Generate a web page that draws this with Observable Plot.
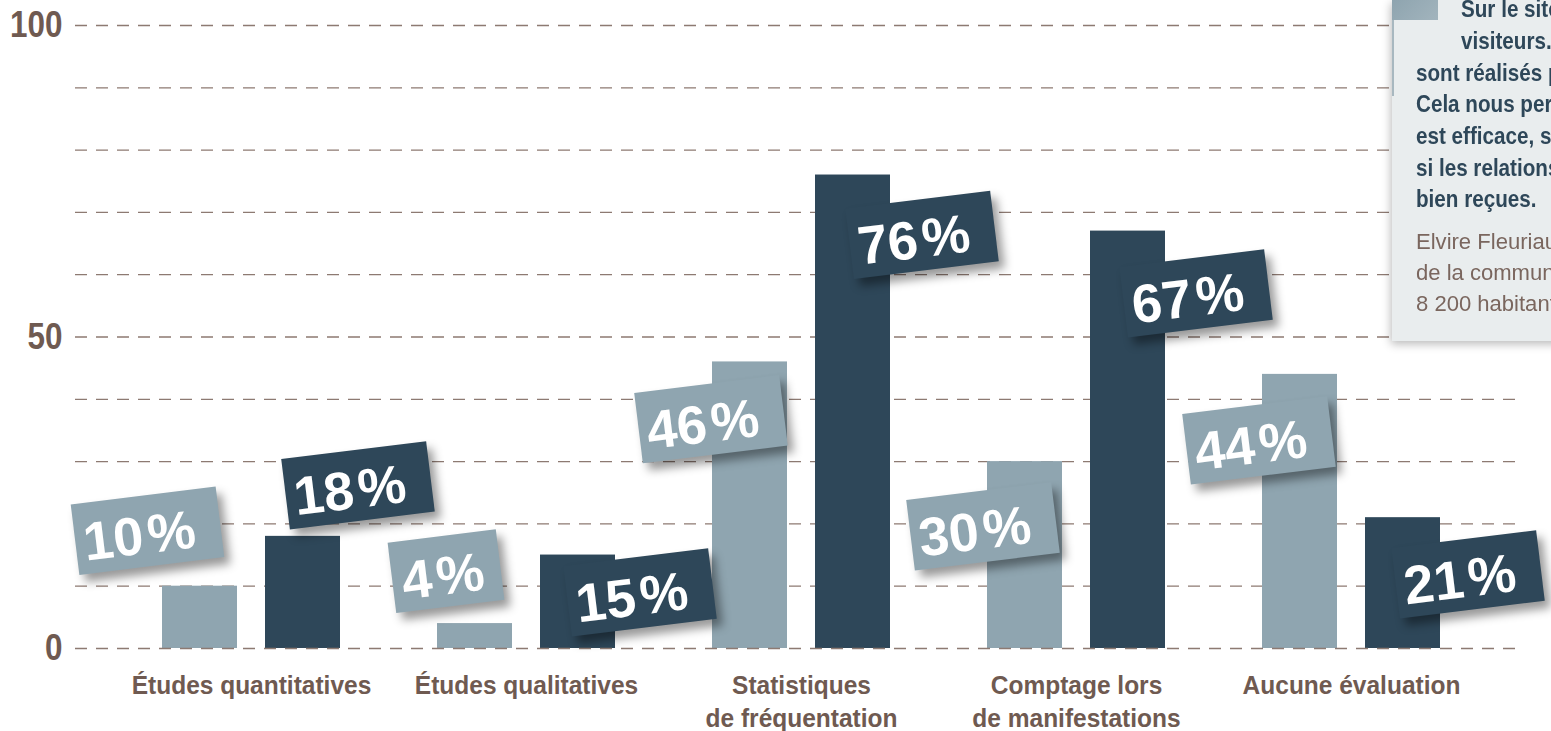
<!DOCTYPE html>
<html>
<head>
<meta charset="utf-8">
<script src="https://cdn.jsdelivr.net/npm/d3@7"></script>
<script src="https://cdn.jsdelivr.net/npm/@observablehq/plot@0.6"></script>
<style>
  html, body { margin: 0; padding: 0; background: #fff; }
  body { width: 1551px; height: 731px; overflow: hidden; position: relative;
         font-family: "Liberation Sans", Arial, sans-serif; }
  #chart { position: absolute; left: 0; top: 0; }
  #callout { position: absolute; left: 1392px; top: 0; width: 420px; height: 341px;
             background: #e9edee; box-shadow: -1px 3px 9px rgba(0,0,0,0.28); }
  #icon { position: absolute; left: 0; top: 0; width: 46px; height: 20px;
          background: linear-gradient(135deg, #8ea4af, #a2b4bd); }
  #edge { position: absolute; left: 0; top: 20px; width: 2px; height: 76px; background: #a8b8c0; }
  .q, .a { position: absolute; white-space: nowrap; transform-origin: 0 50%; }
  .q { font-weight: bold; font-size: 24px; line-height: 24px; color: #2e4759; transform: scaleX(0.86); }
  .a { font-size: 22.5px; line-height: 22px; color: #7a665e; transform: scaleX(0.98); }
</style>
</head>
<body>
<div id="chart"></div>
<div id="callout">
  <div id="icon"></div><div id="edge"></div>
</div>
<script>
// ---- data ----
const categories = [
  "Études quantitatives",
  "Études qualitatives",
  "Statistiques\nde fréquentation",
  "Comptage lors\nde manifestations",
  "Aucune évaluation"
];
const seriesLight = [10, 4, 46, 30, 44];
const seriesDark = [18, 15, 76, 67, 21];
const yTicks = [0, 50, 100];
const gridValues = [10, 20, 30, 40, 50, 60, 70, 80, 90, 100];

// label placement (annotation anchors: y in value units, x offset in pixels)
const lightLabelY = [18.9, 12.4, 36.8, 19.6, 33.4];
const darkLabelY = [26.2, 9.0, 66.4, 57.0, 11.9];
const lightLabelDx = [-104, -80.5, -90.5, -93.5, -92.5];
const darkLabelDx = [106.5, 113.5, 120.5, 119.5, 116.5];

const calloutLines = [
  "Sur le site internet, nous comptons les",
  "visiteurs. Des questionnaires",
  "sont réalisés pendant les manifestations.",
  "Cela nous permet de savoir si notre communication",
  "est efficace, si elle touche le bon public et",
  "si les relations avec la presse sont",
  "bien reçues."
];
const calloutAuthor = [
  "Elvire Fleuriault, chargée de communication",
  "de la communauté de communes",
  "8 200 habitants"
];

// ---- style ----
const LIGHT = "#8fa5b0";
const DARK = "#2e4759";
const BROWN = "#6f5a51";
const GRID = "#8d7a72";
const FONT = '"Liberation Sans", Arial, sans-serif';
const ANGLE = -7;

function boxSymbol(w, h, deg) {
  const a = deg * Math.PI / 180, c = Math.cos(a), s = Math.sin(a);
  return {
    draw(ctx) {
      const pts = [[-w/2, -h/2], [w/2, -h/2], [w/2, h/2], [-w/2, h/2]]
        .map(([x, y]) => [x * c - y * s, x * s + y * c]);
      ctx.moveTo(pts[0][0], pts[0][1]);
      for (let i = 1; i < 4; i++) ctx.lineTo(pts[i][0], pts[i][1]);
      ctx.closePath();
    }
  };
}

const rows = categories.flatMap((cat, i) => [
  {cat, series: "light", value: seriesLight[i], ly: lightLabelY[i], ldx: lightLabelDx[i]},
  {cat, series: "dark", value: seriesDark[i], ly: darkLabelY[i], ldx: darkLabelDx[i]}
]);
const fmt = (v) => `${v}\u200A%`;
const SHADOW = "drop-shadow(6px 7px 5px rgba(0,0,0,0.4))";

const boxes = rows.map(d => Plot.dot([d], {
  x: "cat", y: "ly", dx: d.ldx,
  symbol: boxSymbol(String(d.value).length > 1 ? 146 : 109, 71, ANGLE),
  fill: d.series === "light" ? LIGHT : DARK, stroke: "none", r: 10
}));
const labels = rows.map(d => Plot.text([d], {
  x: "cat", y: "ly", dx: d.ldx + (String(d.value).length > 1 ? -8 : -3), dy: 6,
  text: (r) => fmt(r.value), rotate: ANGLE,
  fill: "white", fontSize: 54, fontWeight: "bold", ariaLabel: "pct"
}));

const chart = Plot.plot({
  width: 1551, height: 731,
  marginLeft: 75, marginRight: 28, marginTop: 25, marginBottom: 83,
  style: {fontFamily: FONT, background: "transparent", overflow: "visible"},
  x: {domain: categories, range: [111.5, 1491], paddingInner: 0.3514, paddingOuter: 0.1757, label: null},
  y: {domain: [0, 100], label: null},
  marks: [
    Plot.ruleY(gridValues, {stroke: GRID, strokeWidth: 1.3, strokeDasharray: "12,9"}),
    Plot.barY(rows.filter(d => d.series === "light"), {x: "cat", y: "value", fill: LIGHT, insetRight: 103}),
    Plot.barY(rows.filter(d => d.series === "dark"), {x: "cat", y: "value", fill: DARK, insetLeft: 103}),
    Plot.ruleY([0], {stroke: GRID, strokeWidth: 1.3, strokeDasharray: "12,9"}),
    boxes,
    labels,
    Plot.axisY({ticks: yTicks, tickSize: 0, tickPadding: 13, fontSize: 37, fontWeight: "bold", fill: BROWN, label: null}),
    Plot.axisX({tickSize: 0, tickPadding: 22, fontSize: 25, fontWeight: "bold", fill: BROWN, lineHeight: 1.32, label: null})
  ]
});
document.getElementById("chart").appendChild(chart);
chart.querySelectorAll('g[aria-label="dot"]').forEach(g => g.style.filter = SHADOW);

// horizontal condensing (condensed typeface look)
function condense(selector, s) {
  chart.querySelectorAll(selector).forEach(t => {
    const tr = t.getAttribute("transform") || "";
    t.setAttribute("transform", tr + ` scale(${s},1)`);
  });
}
condense('g[aria-label="pct"] text', 0.83);
condense('g[aria-label="y-axis tick label"] text', 0.85);
condense('g[aria-label="x-axis tick label"] text', 0.98);

// callout text
const callout = document.getElementById("callout");
const qBase = [17, 49, 81, 112, 144, 176, 207];
calloutLines.forEach((t, i) => {
  const el = document.createElement("div");
  el.className = "q";
  el.textContent = t;
  el.style.left = (i < 2 ? 69 : 24) + "px";
  el.style.top = (qBase[i] - 20) + "px";
  callout.appendChild(el);
});
const aBase = [249, 280, 311];
calloutAuthor.forEach((t, i) => {
  const el = document.createElement("div");
  el.className = "a";
  el.textContent = t;
  el.style.left = "24px";
  el.style.top = (aBase[i] - 18.5) + "px";
  callout.appendChild(el);
});
</script>
</body>
</html>
